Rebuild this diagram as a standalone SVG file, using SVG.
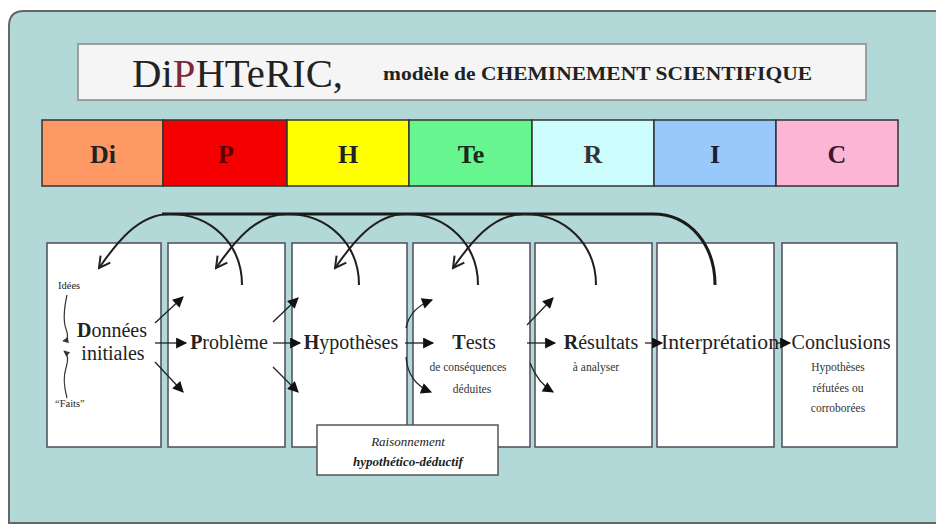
<svg xmlns="http://www.w3.org/2000/svg" width="936" height="525" viewBox="0 0 936 525">
<defs>
<style>
.serif{font-family:"Liberation Serif","Times New Roman",serif;fill:#222}
.bar text{font-family:"Liberation Serif",serif;font-weight:bold;font-size:26px;text-anchor:middle}
.bar rect{stroke:#333;stroke-width:1.5}
.box{fill:#fff;stroke:#556;stroke-width:1.6}
.big{font-size:20px;text-anchor:middle}
.small{font-size:11.5px;text-anchor:middle;fill:#333}
.ln{fill:none;stroke:#222;stroke-width:1.3}
.arc{fill:none;stroke:#1e1e1e;stroke-width:2}
</style>
<marker id="tri" viewBox="0 0 10 10" refX="9" refY="5" markerWidth="13" markerHeight="11" markerUnits="userSpaceOnUse" orient="auto"><path d="M0,0 L10,5 L0,10 z" fill="#111"/></marker>
<marker id="vee" viewBox="0 0 14 14" refX="12" refY="7" markerWidth="14" markerHeight="14" markerUnits="userSpaceOnUse" orient="auto"><path d="M1,1 L12,7 L1,13" fill="none" stroke="#222" stroke-width="2"/></marker>
<marker id="small" viewBox="0 0 10 10" refX="9" refY="5" markerWidth="7" markerHeight="6" markerUnits="userSpaceOnUse" orient="auto"><path d="M0,0 L10,5 L0,10 z" fill="#333"/></marker>
</defs>
<rect width="936" height="525" fill="#fff"/>
<path d="M940,11 L24,11 Q9,11 9,26 L9,523 L940,523 Z" fill="#b3d8d8" stroke="#666" stroke-width="2"/>

<g id="title">
<rect x="78" y="44" width="788" height="56" fill="#f5f5f5" stroke="#888" stroke-width="1.5"/>
<text class="serif" x="132" y="87" font-size="41" textLength="211" lengthAdjust="spacingAndGlyphs" fill="#444">Di<tspan fill="#7a2a38">P</tspan>HTeRIC,</text>
<text class="serif" x="383" y="80" font-size="18" font-weight="bold" textLength="429" lengthAdjust="spacingAndGlyphs">modèle de CHEMINEMENT SCIENTIFIQUE</text>
</g>

<g id="bar" class="bar">
<rect x="42" y="120" width="121" height="66" fill="#fe9966"/>
<rect x="163" y="120" width="124" height="66" fill="#f40000"/>
<rect x="287" y="120" width="122" height="66" fill="#ffff00"/>
<rect x="409" y="120" width="123" height="66" fill="#66f58f"/>
<rect x="532" y="120" width="122" height="66" fill="#ccfcfc"/>
<rect x="654" y="120" width="122" height="66" fill="#99c8fc"/>
<rect x="776" y="120" width="122" height="66" fill="#fcb5d5"/>
<text x="103" y="163" fill="#222">Di</text>
<text x="226" y="163" fill="#5a0000">P</text>
<text x="348" y="163" fill="#222">H</text>
<text x="471" y="163" fill="#1a2a1a">Te</text>
<text x="593" y="163" fill="#333">R</text>
<text x="715" y="163" fill="#1a2030">I</text>
<text x="837" y="163" fill="#3a1a2a">C</text>
</g>

<g id="n-donnees">
<rect class="box" x="47" y="243" width="114" height="204"/>
<text class="serif" x="58" y="289" font-size="10.5" fill="#333">Idées</text>
<text class="serif big" x="112" y="337"><tspan font-weight="bold">D</tspan>onnées</text>
<text class="serif big" x="113" y="360">initiales</text>
<text class="serif" x="55" y="407" font-size="10.5" fill="#333">“Faits”</text>
</g>
<g id="n-probleme">
<rect class="box" x="168" y="243" width="117" height="204"/>
<text class="serif big" x="229" y="349"><tspan font-weight="bold">P</tspan>roblème</text>
</g>
<g id="n-hypotheses">
<rect class="box" x="292" y="243" width="115" height="204"/>
<text class="serif big" x="351" y="349"><tspan font-weight="bold">H</tspan>ypothèses</text>
</g>
<g id="n-tests">
<rect class="box" x="413" y="243" width="117" height="204"/>
<text class="serif big" x="474" y="349"><tspan font-weight="bold">T</tspan>ests</text>
<text class="serif small" x="468" y="371">de conséquences</text>
<text class="serif small" x="472" y="393">déduites</text>
</g>
<g id="n-resultats">
<rect class="box" x="535" y="243" width="117" height="204"/>
<text class="serif big" x="601" y="349"><tspan font-weight="bold">R</tspan>ésultats</text>
<text class="serif small" x="596" y="371">à analyser</text>
</g>
<g id="n-interpretation">
<rect class="box" x="657" y="243" width="117" height="204"/>
<text class="serif big" x="720" y="349" textLength="118" lengthAdjust="spacingAndGlyphs">Interprétation</text>
</g>
<g id="n-conclusions">
<rect class="box" x="782" y="243" width="115" height="204"/>
<text class="serif big" x="841" y="349">Conclusions</text>
<text class="serif small" x="838" y="371">Hypothèses</text>
<text class="serif small" x="838" y="392">réfutées ou</text>
<text class="serif small" x="838" y="412">corroborées</text>
</g>

<g id="connectors">
<path d="M162,214 L653,214 C690,214 715,245 715,285" fill="none" stroke="#1a1a1a" stroke-width="3"/>
<path class="arc" d="M242,285 C242,245 212,214 170,214 C135,214 112,250 99,268" marker-end="url(#vee)"/>
<path class="arc" d="M359,285 C359,245 329,214 287,214 C252,214 229,250 216,268" marker-end="url(#vee)"/>
<path class="arc" d="M478,285 C478,245 448,214 406,214 C371,214 348,250 335,268" marker-end="url(#vee)"/>
<path class="arc" d="M596,285 C596,245 566,214 524,214 C489,214 466,250 453,268" marker-end="url(#vee)"/>

<path d="M67,295 Q62,318 66,329 T63,341" fill="none" stroke="#333" stroke-width="1.2" marker-end="url(#small)"/>
<path d="M67,398 Q62,380 66,368 T64,351" fill="none" stroke="#333" stroke-width="1.2" marker-end="url(#small)"/>

<path class="ln" d="M155,323 L183,297" marker-end="url(#tri)"/>
<path class="ln" d="M155,343 L186,343" marker-end="url(#tri)"/>
<path class="ln" d="M155,362 L183,392" marker-end="url(#tri)"/>

<path class="ln" d="M273,322 L298,298" marker-end="url(#tri)"/>
<path class="ln" d="M273,343 L300,343" marker-end="url(#tri)"/>
<path class="ln" d="M273,367 L298,392" marker-end="url(#tri)"/>

<path class="ln" d="M406,328 Q410,308 432,300" marker-end="url(#tri)"/>
<path class="ln" d="M405,343 L433,343" marker-end="url(#tri)"/>
<path class="ln" d="M406,357 Q408,383 431,392" marker-end="url(#tri)"/>

<path class="ln" d="M527,325 L553,298" marker-end="url(#tri)"/>
<path class="ln" d="M527,343 L555,343" marker-end="url(#tri)"/>
<path class="ln" d="M530,363 Q538,383 553,392" marker-end="url(#tri)"/>

<path class="ln" d="M645,343 L662,343" marker-end="url(#tri)"/>
<path class="ln" d="M777,343 L790,343" marker-end="url(#tri)"/>
</g>

<g id="n-raisonnement">
<rect x="317" y="425" width="181" height="50" fill="#fff" stroke="#555" stroke-width="1.5"/>
<text class="serif" x="408" y="446" font-size="13" font-style="italic" text-anchor="middle" fill="#333">Raisonnement</text>
<text class="serif" x="408" y="466" font-size="13" font-style="italic" font-weight="bold" text-anchor="middle">hypothético-déductif</text>
</g>
</svg>
